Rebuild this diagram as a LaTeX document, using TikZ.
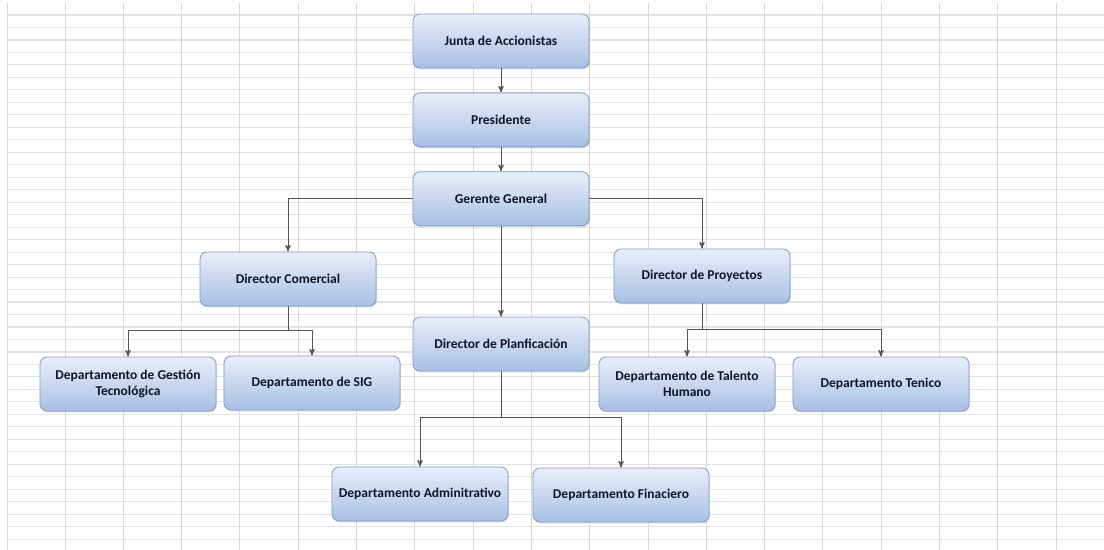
\documentclass[tikz,border=0pt]{standalone}
\usepackage{fontspec}
\setmainfont{Carlito}
\usepackage{tikz}
\usetikzlibrary{positioning,arrows,shadows}

\definecolor{cajaarriba}{RGB}{232,239,250}
\definecolor{cajaabajo}{RGB}{168,192,228}
\definecolor{cajaborde}{RGB}{130,158,205}
\definecolor{tinta}{RGB}{18,20,40}
\definecolor{flecha}{RGB}{85,85,85}
\definecolor{fila}{RGB}{226,226,226}
\definecolor{columna}{RGB}{222,214,214}

\begin{document}
\begin{tikzpicture}[x=0.025cm,y=-0.025cm,->,>=stealth',semithick,
                    node distance=0.6cm]
  \tikzstyle{cargo}=[rectangle,rounded corners=0.18cm,draw=cajaborde,
    line width=0.6pt,top color=cajaarriba,bottom color=cajaabajo,
    drop shadow={opacity=0.3,shadow xshift=0.6pt,shadow yshift=-1pt},
    minimum width=4.4cm,minimum height=1.35cm,align=center,text=tinta,
    font=\fontsize{9.6}{11}\selectfont\bfseries]
  \tikzstyle{linea}=[draw=flecha,line width=0.7pt]

  \useasboundingbox (0,0) rectangle (1104,550);

  % hoja de calculo de fondo
  \foreach \i in {0,...,42}
    \draw[-,fila,line width=0.8pt] (7,{15+12.48*\i}) -- (1104,{15+12.48*\i});
  \foreach \j in {0,...,17}
    \draw[-,columna,line width=0.6pt] ({65+58.3*\j},3) -- ({65+58.3*\j},550);
  \draw[-,columna,line width=0.6pt] (7,3) -- (7,550);

  \node[cargo] (junta) at (501,41)      {Junta de Accionistas};
  \node[cargo] (pres)  [below=of junta] {Presidente};
  \node[cargo] (gte)   [below=of pres]  {Gerente General};

  \node[cargo] (dcom)  at (288,279) {Director Comercial};
  \node[cargo] (dplan) at (501,344) {Director de Planficación};
  \node[cargo] (dproy) at (702,276) {Director de Proyectos};

  \node[cargo] (dgest) at (128,384) {Departamento de Gestión\\Tecnológica};
  \node[cargo] (dsig)  at (312,383) {Departamento de SIG};
  \node[cargo] (dtal)  at (687,384) {Departamento de Talento\\Humano};
  \node[cargo] (dtec)  at (881,384) {Departamento Tenico};
  \node[cargo] (dadm)  at (420,494) {Departamento Adminitrativo};
  \node[cargo] (dfin)  at (621,495) {Departamento Finaciero};

  \coordinate (buscom)  at (288,330);
  \coordinate (busproy) at (702,329);
  \coordinate (busplan) at (501,417);

  \draw[linea] (junta) -- (pres);
  \draw[linea] (pres)  -- (gte);
  \draw[linea] (gte.west) -| (dcom.north);
  \draw[linea] (gte.east) -| (dproy.north);
  \draw[linea] (gte) -- (dplan);

  \draw[linea] (dcom.south) -- (buscom) -| (dgest.north);
  \draw[linea] (buscom) -| (dsig.north);
  \draw[linea] (dproy.south) -- (busproy) -| (dtal.north);
  \draw[linea] (busproy) -| (dtec.north);
  \draw[linea] (dplan.south) -- (busplan) -| (dadm.north);
  \draw[linea] (busplan) -| (dfin.north);
\end{tikzpicture}
\end{document}
